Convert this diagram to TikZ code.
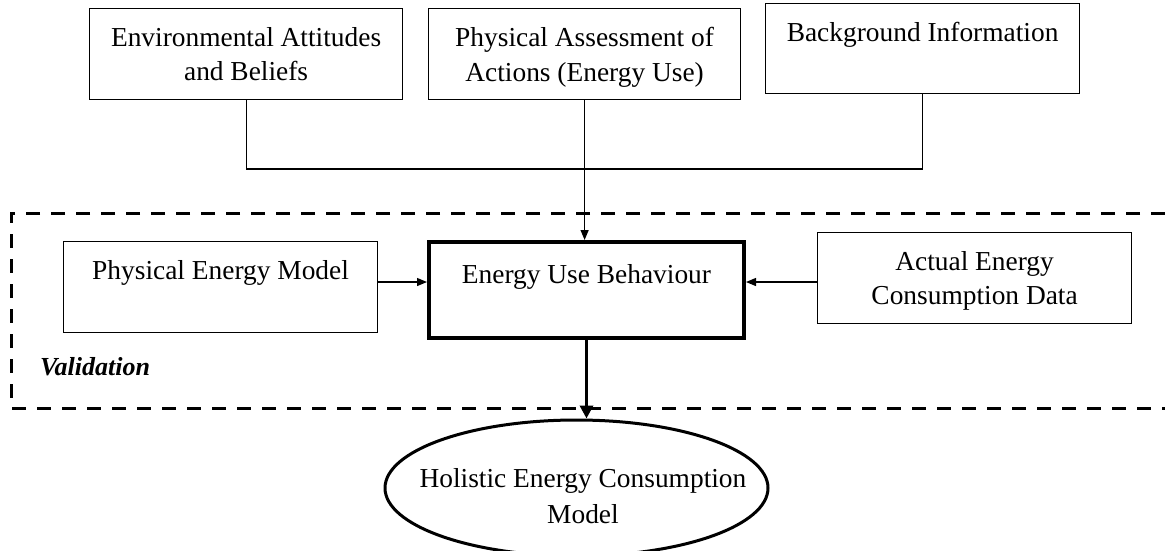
\documentclass[tikz,border=0pt]{standalone}
\usepackage{fontspec}
\setmainfont{Liberation Serif}
\usetikzlibrary{arrows.meta,shapes.geometric}
\newcommand{\boxtxt}[4][38pt]{\parbox[c][#3][t]{#2}{\centering\rule{0pt}{#1}#4}}
\begin{document}
\begin{tikzpicture}[x=1pt,y=-1pt,
  every node/.style={font=\fontsize{27.4}{34}\selectfont},
  plainbox/.style={draw, line width=1.2pt, inner sep=0pt, anchor=north west},
  thickbox/.style={draw, line width=4pt, inner sep=0pt, anchor=north west},
  thinline/.style={line width=1.2pt},
  thinarrow/.style={line width=1.2pt, -{Triangle[length=10pt,width=8pt]}},
  thickarrow/.style={line width=3.5pt, -{Triangle[length=13pt,width=13pt]}},
  frame/.style={line width=3pt, dash pattern=on 14pt off 11pt}]
\useasboundingbox (0,0) rectangle (1165,550);

% top boxes
\node[plainbox] (b1) at (89,8) {\boxtxt{313pt}{91pt}{Environmental Attitudes\\and Beliefs}};
\node[plainbox] (b2) at (428,8) {\boxtxt{312pt}{91pt}{Physical Assessment of\\[1pt]Actions (Energy Use)}};
\node[plainbox] (b3) at (765,3) {\boxtxt{314pt}{90pt}{Background Information}};

% validation frame (open on the right)
\draw[frame] (1165,213) -- (11,213) -- (11,408) -- (1165,408);
\node[anchor=base west, inner sep=0pt, font=\fontsize{26}{30}\selectfont\bfseries\itshape] (val) at (40,375) {Validation};

% middle row
\node[plainbox] (pem) at (63,241) {\boxtxt{314pt}{91pt}{Physical Energy Model}};
\node[thickbox] (eub) at (427,240) {\boxtxt[41pt]{315pt}{96pt}{Energy Use Behaviour}};
\node[plainbox] (act) at (817,232) {\boxtxt{314pt}{91pt}{Actual Energy\\Consumption Data}};

% result ellipse
\node[draw, ellipse, line width=3pt, minimum width=383pt, minimum height=136pt, inner sep=0pt] (hol) at (576.5,488) {};
\node[anchor=north, inner sep=0pt] (holtxt) at (583,449) {\boxtxt{360pt}{80pt}{Holistic Energy Consumption\\[2pt]Model}};

% connectors
\coordinate (junc) at (584,169);
\coordinate (ly) at (0,282);
\draw[thinline] (b1.south) |- (junc) -| (b3.south);
\draw[thinarrow] (b2.south) -- (b2.south |- eub.north);
\draw[thinarrow] (pem.east |- ly) -- (eub.west |- ly);
\draw[thinarrow] (act.west |- ly) -- (eub.east |- ly);
\draw[thickarrow] (eub.south) -- (eub.south |- hol.north);
\end{tikzpicture}
\end{document}
